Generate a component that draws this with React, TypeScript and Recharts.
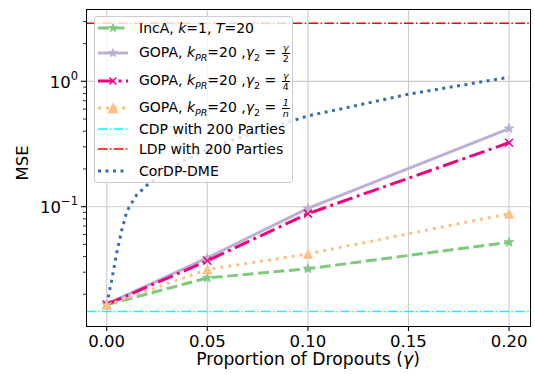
import React from "react";
import { LineChart, Line, XAxis, YAxis, CartesianGrid, ReferenceLine } from "recharts";

// values
const dropouts = [0, 0.05, 0.1, 0.2];
const incA = [0.0165, 0.027, 0.032, 0.052];
const gopaHalf = [0.0167, 0.039, 0.097, 0.42];
const gopaQuarter = [0.0166, 0.037, 0.088, 0.324];
const gopaInvN = [0.0164, 0.0315, 0.042, 0.088];

const cordpX = [0, 0.0025, 0.005, 0.0075, 0.01, 0.015, 0.02, 0.025, 0.03, 0.04, 0.05, 0.06, 0.08, 0.1, 0.12, 0.15, 0.18, 0.2];
const cordpY = [0.0165, 0.026, 0.043, 0.065, 0.092, 0.125, 0.148, 0.172, 0.195, 0.24, 0.285, 0.33, 0.42, 0.53, 0.62, 0.79, 0.95, 1.08];

const cdpLevel = 0.0146;
const ldpLevel = 2.9;

const xTicks = [0, 0.05, 0.1, 0.15, 0.2];
const yMajor = [0.1, 1];
const yMinor = [0.02, 0.03, 0.04, 0.05, 0.06, 0.07, 0.08, 0.09, 0.2, 0.3, 0.4, 0.5, 0.6, 0.7, 0.8, 0.9, 2, 3];

const FONT = "DejaVu Sans";
const GREEN = "#7fc97f";
const PURPLE = "#beaed4";
const ORANGE = "#fdc086";
const BLUE = "#386cb0";
const PINK = "#f0027f";

const toPoints = (xs: number[], ys: number[]) => xs.map((x, i) => ({ x, y: ys[i] }));

const starPoints = (cx: number, cy: number, r: number) => {
  const pts: string[] = [];
  for (let i = 0; i < 10; i++) {
    const a = ((-90 + i * 36) * Math.PI) / 180;
    const rr = i % 2 ? r * 0.42 : r;
    pts.push(`${cx + rr * Math.cos(a)},${cy + rr * Math.sin(a)}`);
  }
  return pts.join(" ");
};

const Star = ({ cx, cy, color, r = 5 }: any) => (
  <polygon points={starPoints(cx, cy, r)} fill={color} stroke={color} strokeWidth={0.8} />
);

const Tri = ({ cx, cy, color, r = 4.5 }: any) => (
  <polygon points={`${cx},${cy - r} ${cx - r},${cy + r} ${cx + r},${cy + r}`} fill={color} stroke={color} strokeWidth={0.8} />
);

const Cross = ({ cx, cy, color, r = 4 }: any) => (
  <g stroke={color} strokeWidth={1.5}>
    <line x1={cx - r} y1={cy - r} x2={cx + r} y2={cy + r} />
    <line x1={cx - r} y1={cy + r} x2={cx + r} y2={cy - r} />
  </g>
);

const YTick = ({ x, y, payload }: any) => {
  const major = yMajor.includes(payload.value);
  return (
    <g>
      <line x1={x - (major ? 5 : 3)} x2={x} y1={y} y2={y} stroke="#000" strokeWidth={major ? 1.1 : 0.8} />
      {major && (
        <text x={x - 8} y={y + 6.5} textAnchor="end" fontFamily={FONT} fontSize={16.5} fill="#000">
          10
          <tspan dy={-8} fontSize={11.5}>{payload.value === 1 ? "0" : "\u22121"}</tspan>
        </text>
      )}
    </g>
  );
};

const Frac = ({ num, den, italicDen }: any) => (
  <span
    style={{
      display: "inline-flex",
      flexDirection: "column",
      alignItems: "center",
      fontSize: 9.5,
      lineHeight: "10px",
      verticalAlign: "middle",
      margin: "0 1px",
    }}
  >
    <span style={{ fontStyle: "italic" }}>{num}</span>
    <span style={{ borderTop: "1px solid #000", padding: "0 1px", fontStyle: italicDen ? "italic" : "normal" }}>{den}</span>
  </span>
);

const Gopa = ({ frac }: any) => (
  <span>
    GOPA, <i>k</i>
    <sub style={{ fontSize: 9.5, fontStyle: "italic" }}>PR</sub>=20 ,<i>γ</i>
    <sub style={{ fontSize: 9.5 }}>2</sub> = {frac}
  </span>
);

const legendRows = [
  { top: 11, color: GREEN, dash: "11 4.5", width: 3, marker: "star", label: <span>IncA, <i>k</i>=1, <i>T</i>=20</span> },
  { top: 36, color: PURPLE, dash: "", width: 3, marker: "star", label: <Gopa frac={<Frac num="γ" den="2" />} /> },
  { top: 64, color: PINK, dash: "16 4.5 3 4.5", width: 3, marker: "x", label: <Gopa frac={<Frac num="γ" den="4" />} /> },
  { top: 91, color: ORANGE, dash: "3 5", width: 3, marker: "tri", label: <Gopa frac={<Frac num="1" den="n" italicDen />} /> },
  { top: 112, color: "#00ffff", dash: "9.6 2.4 1.5 2.4", width: 1.5, marker: "", label: <span>CDP with 200 Parties</span> },
  { top: 132, color: "#ff0000", dash: "9.6 2.4 1.5 2.4", width: 1.5, marker: "", label: <span>LDP with 200 Parties</span> },
  { top: 154, color: BLUE, dash: "3 4.5", width: 3, marker: "", label: <span>CorDP-DME</span> },
];

const LegendBox = () => (
  <div
    style={{
      position: "absolute",
      left: 94,
      top: 16,
      width: 199,
      height: 167,
      background: "rgba(255,255,255,0.8)",
      border: "1px solid #cccccc",
      borderRadius: 3,
      boxSizing: "border-box",
      fontFamily: FONT,
      fontSize: 14,
      color: "#000",
    }}
  >
    {legendRows.map((row, i) => (
      <div key={i} style={{ position: "absolute", left: 0, top: row.top - 14, height: 28, display: "flex", alignItems: "center" }}>
        <svg width={40} height={28} style={{ position: "absolute", left: 0, top: 0 }}>
          <line x1={3} x2={33} y1={14} y2={14} stroke={row.color} strokeWidth={row.width} strokeDasharray={row.dash} />
          {row.marker === "star" && <Star cx={18} cy={14} color={row.color} r={4.5} />}
          {row.marker === "tri" && <Tri cx={18} cy={14} color={row.color} r={5} />}
          {row.marker === "x" && <Cross cx={18} cy={14} color={row.color} r={3.5} />}
        </svg>
        <div style={{ position: "absolute", left: 44, whiteSpace: "nowrap" }}>{row.label}</div>
      </div>
    ))}
  </div>
);

const dotOf = (kind: string, color: string) => (p: any) => {
  const key = `${kind}-${p.index}`;
  if (kind === "star") return <Star key={key} cx={p.cx} cy={p.cy} color={color} />;
  if (kind === "tri") return <Tri key={key} cx={p.cx} cy={p.cy} color={color} />;
  return <Cross key={key} cx={p.cx} cy={p.cy} color={color} />;
};

export default function App() {
  return (
    <div style={{ position: "absolute", left: 0, top: 0, width: 535, height: 375, background: "#fff" }}>
      <LineChart width={535} height={375} margin={{ top: 9, right: 5, bottom: 0, left: 0 }}>
        <CartesianGrid stroke="#cccccc" strokeWidth={1.1} horizontalValues={yMajor} verticalValues={xTicks} />
        <XAxis
          dataKey="x"
          type="number"
          domain={[-0.0103, 0.2104]}
          allowDataOverflow
          ticks={xTicks}
          interval={0}
          tickFormatter={(v: number) => v.toFixed(2)}
          tick={{ fontSize: 16.5, fill: "#000", fontFamily: FONT }}
          tickLine={{ stroke: "#000", strokeWidth: 1.1 }}
          tickSize={5}
          tickMargin={4}
          axisLine={false}
          height={49}
        />
        <YAxis
          type="number"
          scale="log"
          domain={[0.01117, 3.776]}
          allowDataOverflow
          ticks={[...yMinor, ...yMajor]}
          interval={0}
          tick={<YTick />}
          tickLine={false}
          tickSize={0}
          tickMargin={0}
          axisLine={false}
          width={86}
        />
        <ReferenceLine y={cdpLevel} stroke="#00ffff" strokeWidth={1.5} strokeDasharray="9.6 2.4 1.5 2.4" />
        <ReferenceLine y={ldpLevel} stroke="#ff0000" strokeWidth={1.5} strokeDasharray="9.6 2.4 1.5 2.4" />
        <Line data={toPoints(cordpX, cordpY)} dataKey="y" type="linear" stroke={BLUE} strokeWidth={3} strokeDasharray="3 4.5" dot={false} activeDot={false} isAnimationActive={false} />
        <Line data={toPoints(dropouts, incA)} dataKey="y" type="linear" stroke={GREEN} strokeWidth={3} strokeDasharray="11 4.5" dot={dotOf("star", GREEN)} activeDot={false} isAnimationActive={false} />
        <Line data={toPoints(dropouts, gopaHalf)} dataKey="y" type="linear" stroke={PURPLE} strokeWidth={3} dot={dotOf("star", PURPLE)} activeDot={false} isAnimationActive={false} />
        <Line data={toPoints(dropouts, gopaQuarter)} dataKey="y" type="linear" stroke={PINK} strokeWidth={3} strokeDasharray="16 4.5 3 4.5" dot={dotOf("x", PINK)} activeDot={false} isAnimationActive={false} />
        <Line data={toPoints(dropouts, gopaInvN)} dataKey="y" type="linear" stroke={ORANGE} strokeWidth={3} strokeDasharray="3 5" dot={dotOf("tri", ORANGE)} activeDot={false} isAnimationActive={false} />
        <text x={22} y={163} transform="rotate(-90 22 163)" textAnchor="middle" dominantBaseline="central" fontFamily={FONT} fontSize={16.5} fill="#000">
          MSE
        </text>
        <text x={308} y={365} textAnchor="middle" fontFamily={FONT} fontSize={17.2} fill="#000">
          Proportion of Dropouts (<tspan fontStyle="italic">γ</tspan>)
        </text>
      </LineChart>
      <div
        style={{
          position: "absolute",
          left: 85.5,
          top: 8.5,
          width: 445,
          height: 318,
          border: "1.1px solid #000",
          boxSizing: "border-box",
          pointerEvents: "none",
        }}
      />
      <LegendBox />
    </div>
  );
}
